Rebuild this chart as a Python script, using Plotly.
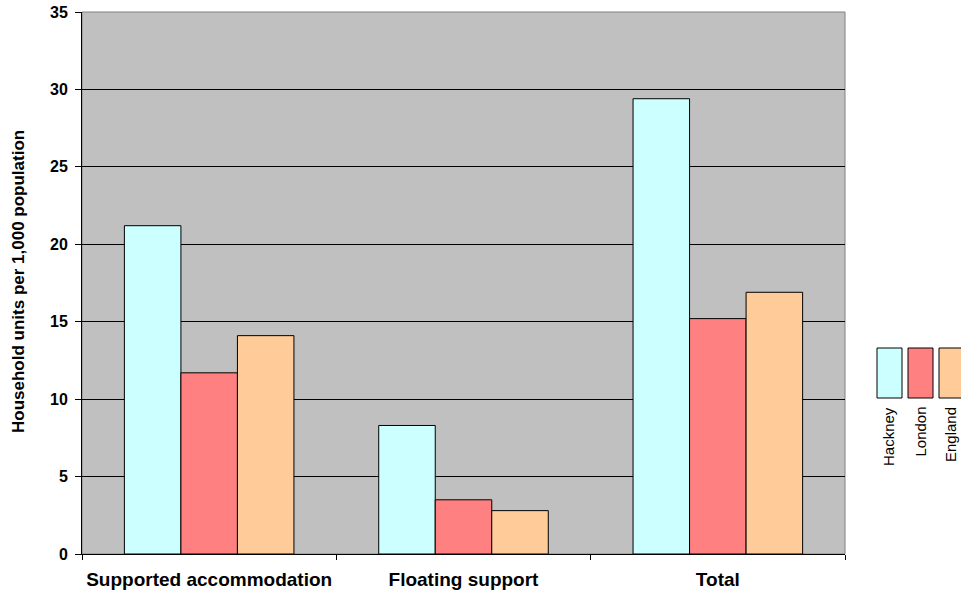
import plotly.graph_objects as go

categories = ["Supported accommodation", "Floating support", "Total"]
series_names = ["Hackney", "London", "England"]
hackney = [21.2, 8.3, 29.4]
london = [11.7, 3.5, 15.2]
england = [14.1, 2.8, 16.9]
series_values = [hackney, london, england]
series_colors = ["#CCFFFF", "#FF8080", "#FFCC99"]

y_ticks = [0, 5, 10, 15, 20, 25, 30, 35]

FONT = "Liberation Sans, Arial, sans-serif"

fig = go.Figure()
for name, vals, col in zip(series_names, series_values, series_colors):
    fig.add_trace(go.Bar(
        name=name, x=categories, y=vals,
        marker=dict(color=col, line=dict(color="#000000", width=1)),
        showlegend=False,
    ))

# plot-area geometry in pixels (for the hand-drawn legend)
W, H = 961, 595
L, R, T, B = 82, 845, 12, 554
pw, ph = R - L, B - T


def px_x(p):
    return (p - L) / pw


def px_y(p):
    return (B - p) / ph


shapes = [
    dict(type="rect", xref="paper", yref="paper", x0=0, x1=1, y0=0, y1=1,
         line=dict(color="#808080", width=1), fillcolor="rgba(0,0,0,0)", layer="below"),
]
annotations = []

# legend: vertical boxes with rotated labels underneath
box_left = [877, 908, 939]
box_w = 25
for i, (name, col) in enumerate(zip(series_names, series_colors)):
    x0 = box_left[i]
    shapes.append(dict(
        type="rect", xref="paper", yref="paper",
        x0=px_x(x0), x1=px_x(x0 + box_w), y0=px_y(398), y1=px_y(348),
        fillcolor=col, line=dict(color="#000000", width=1),
    ))
    annotations.append(dict(
        text=name, xref="paper", yref="paper",
        x=px_x(x0 + box_w / 2 - 1), y=px_y(405), xanchor="center", yanchor="top",
        textangle=-90, showarrow=False,
        font=dict(family=FONT, size=15, color="#000000"),
    ))

annotations.append(dict(
    text="<b>Household units per 1,000 population</b>", xref="paper", yref="paper",
    x=px_x(18), y=px_y(282), xanchor="center", yanchor="middle",
    textangle=-90, showarrow=False,
    font=dict(family=FONT, size=17, color="#000000"),
))

fig.update_layout(
    width=W, height=H,
    margin=dict(l=L, r=W - R, t=T, b=H - B, autoexpand=False),
    paper_bgcolor="#FFFFFF",
    plot_bgcolor="#C0C0C0",
    barmode="group",
    bargap=1 / 3,
    bargroupgap=0,
    shapes=shapes,
    annotations=annotations,
    font=dict(family=FONT, color="#000000"),
)

fig.update_xaxes(
    type="category",
    automargin=False,
    tickangle=0,
    showline=True, linecolor="#000000", linewidth=1,
    ticks="outside", tickson="boundaries", ticklen=5, tickcolor="#000000",
    ticklabelstandoff=8,
    tickfont=dict(family=FONT, size=19, color="#000000", weight="bold"),
    showgrid=False,
)

fig.update_yaxes(
    range=[0, 35],
    automargin=False,
    tickvals=y_ticks,
    ticktext=[f"<b>{v}</b>" for v in y_ticks],
    showline=True, linecolor="#000000", linewidth=1,
    ticks="outside", ticklen=6, tickcolor="#000000",
    ticklabelstandoff=4,
    tickfont=dict(family=FONT, size=16, color="#000000"),
    showgrid=True, gridcolor="#000000", gridwidth=1,
    zeroline=False,
)

fig.write_html("out.html")
